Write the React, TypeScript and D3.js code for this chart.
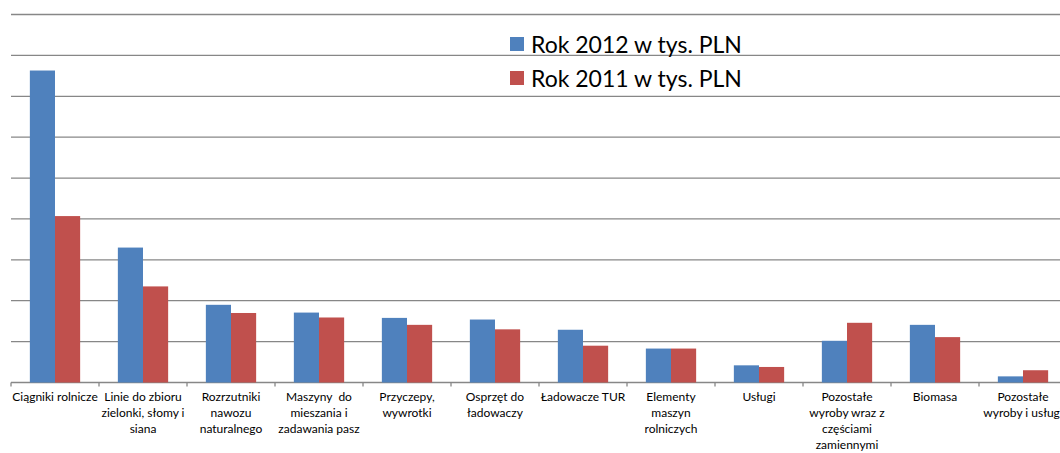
import React from "react";
import * as d3 from "d3";

// categories (each label split into lines as in the original)
const categories = [
  "Ciągniki rolnicze",
  "Linie do zbioru zielonki, słomy i siana",
  "Rozrzutniki nawozu naturalnego",
  "Maszyny  do mieszania i zadawania pasz",
  "Przyczepy, wywrotki",
  "Osprzęt do ładowaczy",
  "Ładowacze TUR",
  "Elementy maszyn rolniczych",
  "Usługi",
  "Pozostałe wyroby wraz z częściami zamiennymi",
  "Biomasa",
  "Pozostałe wyroby i usługi",
];
const labelLines = [
  ["Ciągniki rolnicze"],
  ["Linie do zbioru", "zielonki, słomy i", "siana"],
  ["Rozrzutniki", "nawozu", "naturalnego"],
  ["Maszyny  do", "mieszania i", "zadawania pasz"],
  ["Przyczepy,", "wywrotki"],
  ["Osprzęt do", "ładowaczy"],
  ["Ładowacze TUR"],
  ["Elementy", "maszyn", "rolniczych"],
  ["Usługi"],
  ["Pozostałe", "wyroby wraz z", "częściami", "zamiennymi"],
  ["Biomasa"],
  ["Pozostałe", "wyroby i usługi"],
];

const seriesNames = ["Rok 2012 w tys. PLN", "Rok 2011 w tys. PLN"];
const seriesColors = ["#4F81BD", "#C0504D"];

// values in tys. PLN
const values2012 = [76300, 33000, 19000, 17100, 15800, 15400, 12900, 8300, 4200, 10200, 14100, 1500];
const values2011 = [40700, 23500, 17000, 15900, 14100, 13000, 9000, 8300, 3800, 14600, 11100, 3000];

const yTicks = [0, 10000, 20000, 30000, 40000, 50000, 60000, 70000, 80000, 90000];

const W = 1060, H = 453;
const left = 11, step = 88;
const baseY = 382.5, topY = 14.5;

export default function App() {
  const x = d3.scaleBand<string>()
    .domain(categories)
    .range([left, left + step * categories.length])
    .paddingInner(0)
    .paddingOuter(0);
  const xSub = d3.scaleBand<string>()
    .domain(seriesNames)
    .range([0, x.bandwidth()])
    .paddingInner(0)
    .paddingOuter(0.75);
  const y = d3.scaleLinear().domain([0, 90000]).range([baseY, topY]);

  const data = [values2012, values2011];
  const font = "Lato, 'Liberation Sans', sans-serif";

  return (
    <svg width={W} height={H} style={{ position: "absolute", left: 0, top: 0, background: "#fff" }}>
      {/* gridlines */}
      {yTicks.map(t => (
        <line key={t} x1={left} x2={W} y1={y(t)} y2={y(t)} stroke="#878787" strokeWidth={1.3} />
      ))}
      {/* category ticks */}
      {categories.map((c, i) => (
        <line key={"t" + i} x1={x(c)!} x2={x(c)!} y1={baseY} y2={baseY + 4} stroke="#878787" strokeWidth={1.3} />
      ))}
      {/* bars */}
      {data.map((vals, s) => (
        <g key={s}>
          {vals.map((v, i) => (
            <rect
              key={i}
              x={x(categories[i])! + xSub(seriesNames[s])!}
              y={y(v)}
              width={xSub.bandwidth()}
              height={baseY - y(v)}
              fill={seriesColors[s]}
            />
          ))}
        </g>
      ))}
      {/* category labels */}
      {categories.map((c, i) => (
        <text key={"l" + i} textAnchor="middle" fontFamily={font} fontSize={12} fill="#000"
          style={{ whiteSpace: "pre" }}>
          {labelLines[i].map((ln, j) => (
            <tspan key={j} x={x(c)! + x.bandwidth() / 2} y={401 + j * 16}>{ln}</tspan>
          ))}
        </text>
      ))}
      {/* legend */}
      {seriesNames.map((n, s) => (
        <g key={"lg" + s} transform={`translate(510, ${37 + s * 34})`}>
          <rect x={0} y={0} width={14} height={14} fill={seriesColors[s]} />
          <text x={21} y={16} fontFamily={font} fontSize={23} fill="#000">{n}</text>
        </g>
      ))}
    </svg>
  );
}
